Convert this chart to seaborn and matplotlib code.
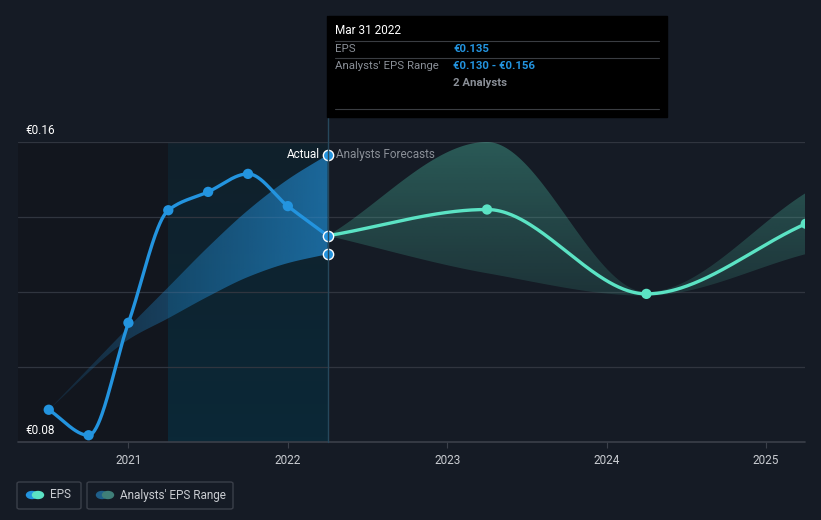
import numpy as np
import matplotlib
matplotlib.use('Agg')
import matplotlib.pyplot as plt
import seaborn as sns
from matplotlib.patches import Rectangle, FancyBboxPatch, Circle
from matplotlib.lines import Line2D

# data (decimal years, EUR)
actual_dates = [2020.5, 2020.75, 2021.0, 2021.25, 2021.5, 2021.75, 2022.0, 2022.25]
actual_eps = [0.0886, 0.0818, 0.1118, 0.1418, 0.1467, 0.1515, 0.1429, 0.135]
past_band_dates = [2020.5, 2021.0, 2021.25, 2021.5, 2021.75, 2022.0, 2022.25]
past_low = [0.0886, 0.1073, 0.113, 0.1188, 0.1240, 0.1277, 0.1301]
past_high = [0.0886, 0.1106, 0.1213, 0.1320, 0.1418, 0.1500, 0.1566]
fc_dates = [2022.25, 2023.25, 2024.25, 2025.25]
fc_eps = [0.135, 0.142, 0.1195, 0.1382]
fc_low = [0.135, 0.125, 0.119, 0.1301]
fc_high = [0.135, 0.160, 0.120, 0.1464]
year_ticks = [2021, 2022, 2023, 2024, 2025]

BG = '#151b25'
BLUE = '#2394df'
TEAL = '#5be3c4'
W, H = 821, 520


def monotone(x, y, n=300):
    # Fritsch-Carlson style monotone cubic, similar to d3 curveMonotoneX
    x = np.asarray(x, float)
    y = np.asarray(y, float)
    h = np.diff(x)
    d = np.diff(y) / h
    m = np.zeros_like(y)
    m[0], m[-1] = d[0], d[-1]
    for k in range(1, len(x) - 1):
        if d[k - 1] * d[k] <= 0:
            m[k] = 0
        else:
            m[k] = 3 * (h[k - 1] + h[k]) / ((2 * h[k] + h[k - 1]) / d[k - 1] + (h[k] + 2 * h[k - 1]) / d[k])
    xs = np.linspace(x[0], x[-1], n)
    idx = np.clip(np.searchsorted(x, xs) - 1, 0, len(x) - 2)
    t = (xs - x[idx]) / h[idx]
    h00 = 2 * t**3 - 3 * t**2 + 1
    h10 = t**3 - 2 * t**2 + t
    h01 = -2 * t**3 + 3 * t**2
    h11 = t**3 - t**2
    ys = h00 * y[idx] + h10 * h[idx] * m[idx] + h01 * y[idx + 1] + h11 * h[idx] * m[idx + 1]
    return xs, ys


sns.set_style('dark')
plt.rcParams['font.family'] = ['Roboto', 'DejaVu Sans']

fig = plt.figure(figsize=(W / 100, H / 100), dpi=100, facecolor=BG)
ax = fig.add_axes([18 / W, 78 / H, 787 / W, 300 / H])
ax.set_facecolor(BG)
x0, x1 = 2020.307, 2025.245
ax.set_xlim(x0, x1)
ax.set_ylim(0.08, 0.16)

# background regions
ax.axvspan(x0, 2021.25, color='#12161e', zorder=0, lw=0)
grad = np.zeros((64, 1, 4))
top_c = np.array([16, 32, 43]) / 255
bot_c = np.array([11, 40, 55]) / 255
for i in range(64):
    f = i / 63
    grad[i, 0, :3] = top_c * (1 - f) + bot_c * f
    grad[i, 0, 3] = 1
ax.imshow(grad, extent=[2021.25, 2022.25, 0.08, 0.16], aspect='auto', origin='upper', zorder=0.5)

# grid
for v in [0.10, 0.12, 0.14, 0.16]:
    ax.axhline(v, color='#30353f', lw=0.9, zorder=1)
ax.axhline(0.08, color='#3b404a', lw=1.2, zorder=1, clip_on=False)

# past analysts range (gradient clipped to band)
bx, blo = monotone(past_band_dates, past_low)
_, bhi = monotone(past_band_dates, past_high)
band = ax.fill_between(bx, blo, bhi, color='none', lw=0)
pg = np.zeros((1, 128, 4))
pg[0, :, :3] = np.array([35, 148, 223]) / 255
pg[0, :, 3] = np.linspace(0.12, 0.62, 128)
im = ax.imshow(pg, extent=[2020.5, 2022.25, 0.08, 0.16], aspect='auto', zorder=2, interpolation='bilinear')
im.set_clip_path(band.get_paths()[0], transform=ax.transData)

# forecast range (vertical gradient)
fx, flo = monotone(fc_dates, fc_low)
_, fhi = monotone(fc_dates, fc_high)
fband = ax.fill_between(fx, flo, fhi, color='none', lw=0)
fg = np.zeros((128, 1, 4))
fg[:, 0, :3] = np.array([88, 225, 193]) / 255
fg[:, 0, 3] = np.linspace(0.32, 0.12, 128)
im2 = ax.imshow(fg, extent=[2022.25, 2025.25, 0.118, 0.16], aspect='auto', origin='upper',
                zorder=2, interpolation='bilinear')
im2.set_clip_path(fband.get_paths()[0], transform=ax.transData)
ax.set_xlim(x0, x1)
ax.set_ylim(0.08, 0.16)

# lines
ax_x, ax_y = monotone(actual_dates, actual_eps)
sns.lineplot(x=ax_x, y=ax_y, ax=ax, color=BLUE, lw=2.4, zorder=4, sort=False)
f_x, f_y = monotone(fc_dates, fc_eps)
sns.lineplot(x=f_x, y=f_y, ax=ax, color=TEAL, lw=2.4, zorder=4, sort=False)

sns.scatterplot(x=actual_dates[:-1], y=actual_eps[:-1], ax=ax, color=BLUE, s=55,
                edgecolor='none', zorder=5)
sns.scatterplot(x=fc_dates[1:], y=fc_eps[1:], ax=ax, color=TEAL, s=55,
                edgecolor='none', zorder=5)
sns.scatterplot(x=[2022.25, 2022.25, 2022.25], y=[actual_eps[-1], past_low[-1], past_high[-1]], ax=ax,
                color=BLUE, s=55, edgecolor='white', linewidth=1.0, zorder=6, clip_on=False)

# divider line at last actual
fig.add_artist(Line2D([327.5 / W] * 2, [1 - 442 / H, 1 - 16 / H], color='#26485c', lw=1, zorder=3))

ax.text(2022.25 - 0.05, 0.1566, 'Actual', color='white', fontsize=8.5, ha='right', va='center', zorder=7)
ax.text(2022.25 + 0.05, 0.1566, 'Analysts Forecasts', color='#8a8f97', fontsize=8.5, ha='left',
        va='center', zorder=7)

# axes styling
ax.set_xticks(year_ticks)
ax.set_xticklabels([str(y) for y in year_ticks], color='#c9ccd1', fontsize=8.5)
ax.tick_params(axis='x', length=4, color='#3b404a', pad=5, bottom=True)
ax.set_yticks([])
ax.grid(False)
for s in ax.spines.values():
    s.set_visible(False)
ax.set_xlabel('')
ax.set_ylabel('')

fig.text(25 / W, 1 - 130 / H, '€0.16', color='white', fontsize=8.5, va='center')
fig.text(25 / W, 1 - 430 / H, '€0.08', color='white', fontsize=8.5, va='center')

# tooltip
fig.add_artist(Rectangle((327 / W, 1 - 117 / H), 340 / W, 101 / H, transform=fig.transFigure,
                         color='black', zorder=10))
for yy in [41, 58, 109]:
    fig.add_artist(Line2D([335 / W, 659 / W], [1 - yy / H] * 2, color='#3a3d42', lw=0.8, zorder=11))
fig.text(335 / W, 1 - 30 / H, 'Mar 31 2022', color='white', fontsize=8.5, va='center', zorder=12)
fig.text(335 / W, 1 - 49.5 / H, 'EPS', color='#8a8f97', fontsize=8.2, va='center', zorder=12)
fig.text(453 / W, 1 - 49.5 / H, '€0.135', color=BLUE, fontsize=8.2, va='center', zorder=12,
         fontweight='bold')
fig.text(335 / W, 1 - 66 / H, "Analysts' EPS Range", color='#8a8f97', fontsize=8.2, va='center', zorder=12)
fig.text(453 / W, 1 - 66 / H, '€0.130 - €0.156', color=BLUE, fontsize=8.2, va='center', zorder=12,
         fontweight='bold')
fig.text(453 / W, 1 - 83 / H, '2 Analysts', color='#8a8f97', fontsize=8.2, va='center', zorder=12,
         fontweight='bold')

# legend boxes
for bx0, bw in [(17, 64), (87, 146)]:
    fig.add_artist(FancyBboxPatch((bx0 / W, 1 - 509 / H), bw / W, 27 / H, transform=fig.transFigure,
                                  boxstyle='round,pad=0,rounding_size=0.003', fc='none',
                                  ec='#3a3f49', lw=1))
for cx, col in [(32, BLUE), (38, TEAL), (102, '#1f5f8a'), (108, '#3f7f78')]:
    fig.add_artist(Circle((cx / W, 1 - 495 / H), 5.5 / W, transform=fig.transFigure, color=col))
fig.text(50 / W, 1 - 495 / H, 'EPS', color='#c9ccd1', fontsize=8.5, va='center')
fig.text(120 / W, 1 - 495 / H, "Analysts' EPS Range", color='#c9ccd1', fontsize=8.5, va='center')

fig.savefig('out.png', dpi=100, facecolor=BG)
